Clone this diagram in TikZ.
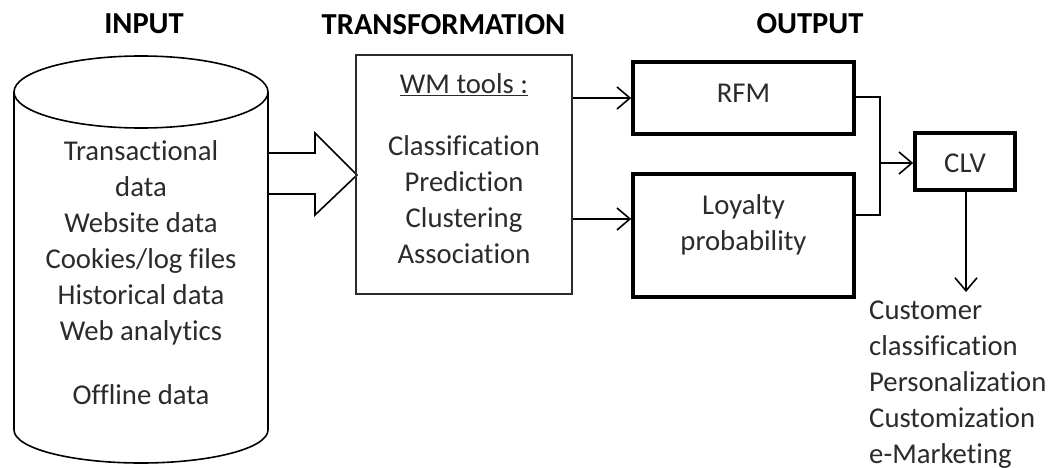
\documentclass[tikz,border=0pt]{standalone}
\usepackage{fontspec}
\setmainfont[Ligatures={NoCommon}]{Carlito}
\usetikzlibrary{arrows.meta}
\definecolor{ink}{HTML}{2B2B2B}
\tikzset{
  txt/.style={font=\fontsize{28.7}{36}\selectfont, text=ink, inner sep=0pt, align=center},
  head/.style={font=\fontsize{30.5}{36}\selectfont\bfseries, text=black, inner sep=0pt},
  thinline/.style={draw=black, line width=1.6pt},
  thinbox/.style={draw=ink, line width=1.6pt, inner sep=0pt},
  thickbox/.style={draw=black, line width=3.6pt, inner sep=0pt},
  conn/.style={draw=black, line width=1.6pt,
    -{Straight Barb[length=13pt,width=22pt,line width=1.6pt]}},
}
\begin{document}
\begin{tikzpicture}[x=1pt,y=-1pt]
\useasboundingbox[fill=white] (0,0) rectangle (1051,468);

% column headings
\node[head] (hin)  at (144,24) {INPUT};
\node[head] (htr)  at (443.5,25) {TRANSFORMATION};
\node[head] (hout) at (810,24) {OUTPUT};

% data store (cylinder)
\draw[thinline] (141,92) ellipse [x radius=127pt, y radius=36pt];
\draw[thinline] (14,92) -- (14,430)
  arc[start angle=180, end angle=360, x radius=127pt, y radius=33pt] -- (268,92);
\node[txt] (src) at (141,243) {Transactional\\data\\Website data\\Cookies/log files\\Historical data\\Web analytics};
\node[txt] (offl) at (141,395) {Offline data};

% block arrow into the tools box
\draw[thinline, line join=miter] (268,153) -- (315,153) -- (315,133) -- (357,175)
  -- (315,215) -- (315,194) -- (268,194);

% web mining tools
\node[thinbox, minimum width=216pt, minimum height=239pt] (wm) at (464,174.5) {};
\node[txt] (wmt) at (464,85) {\underline{WM tools :}};
\node[txt] (wml) at (464,200) {Classification\\Prediction\\Clustering\\Association};

% outputs
\node[thickbox, minimum width=221pt, minimum height=72pt]  (rfm) at (743.5,98) {};
\node[txt] (rfmt) at (743.5,93) {RFM};
\node[thickbox, minimum width=221pt, minimum height=123pt] (loy) at (743.5,235.5) {};
\node[txt] (loyt) at (743.5,225) {Loyalty\\probability};
\node[thickbox, minimum width=100pt, minimum height=57pt] (clv) at (965,161.5) {};
\node[txt] (clvt) at (965,163) {CLV};

% connectors
\coordinate (ya) at (0,98);
\coordinate (yb) at (0,219);
\draw[conn] (wm.east |- ya) -- (rfm.west |- ya);
\draw[conn] (wm.east |- yb) -- (loy.west |- yb);

\coordinate (bt) at (880,97);
\coordinate (bb) at (880,215);
\coordinate (bm) at (880,163);
\draw[thinline] (rfm.east |- bt) -- (bt) -- (bb) -- (loy.east |- bb);
\draw[conn] (bm) -- (clv.west |- bm);

\coordinate (uend) at (966,292);
\draw[conn] (clv.south -| uend) -- (uend);
\node[txt, align=left, anchor=west] (uses) at (869,385)
  {Customer\\classification\\Personalization\\Customization\\e-Marketing};
\end{tikzpicture}
\end{document}
